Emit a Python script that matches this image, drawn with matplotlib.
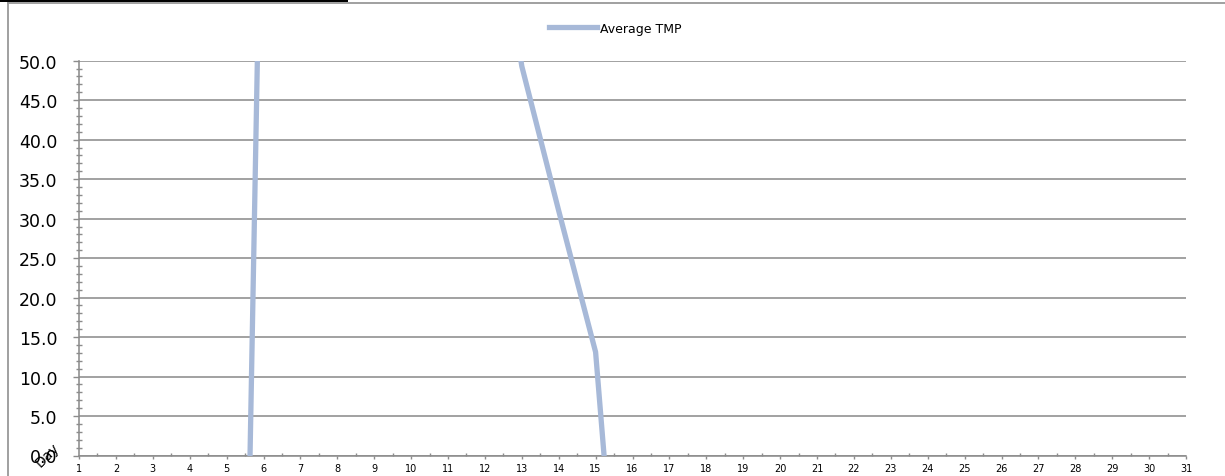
import matplotlib
matplotlib.use("Agg")
import matplotlib.pyplot as plt
from matplotlib.ticker import MultipleLocator, FixedLocator, FixedFormatter
from matplotlib.lines import Line2D
from matplotlib.patches import Rectangle

# ---- data (values outside 0..50 are clipped by the axes, estimated) ----
days = list(range(1, 17))
avg_tmp = [-150.0, -130.0, -145.0, -155.0, -160.0, 92.0, 100.0, 110.0,
           105.0, 95.0, 90.0, 80.0, 49.3, 31.0, 13.1, -44.0]
series_name = "Average TMP"
x_labels = [str(d) for d in range(1, 32)]
y_ticks = [0, 5, 10, 15, 20, 25, 30, 35, 40, 45, 50]

W, H = 1225, 477
fig = plt.figure(figsize=(W / 100, H / 100), dpi=100)
fig.patch.set_facecolor("white")

ax = fig.add_axes([79 / W, 1 - 456.5 / H, (1186 - 79) / W, (456.5 - 61.7) / H])
line_color = "#A7B9D8"
grid_color = "#8C8C8C"

ax.plot(days, avg_tmp, color=line_color, lw=3.8, solid_joinstyle="miter",
        label=series_name, zorder=3)

ax.set_xlim(1, 31)
ax.set_ylim(0, 50)

# y axis
ax.yaxis.set_major_locator(FixedLocator(y_ticks))
ax.yaxis.set_major_formatter(FixedFormatter([f"{v:.1f}" for v in y_ticks]))
ax.yaxis.set_minor_locator(MultipleLocator(1))
ax.tick_params(axis="y", which="major", direction="out", length=4.5, width=1,
               color=grid_color, labelsize=12.5, pad=11)
ax.tick_params(axis="y", which="minor", direction="inout", length=5, width=1,
               color=grid_color)

# x axis
ax.xaxis.set_major_locator(FixedLocator(range(1, 32)))
ax.xaxis.set_major_formatter(FixedFormatter(x_labels))
ax.xaxis.set_minor_locator(FixedLocator([d + 0.5 for d in range(1, 31)]))
ax.tick_params(axis="x", which="major", direction="out", length=2.5, width=1,
               color=grid_color, labelsize=7, pad=3)
ax.tick_params(axis="x", which="minor", direction="in", length=2.5, width=1,
               color=grid_color)

ax.grid(axis="y", which="major", color=grid_color, lw=1.15)
ax.set_axisbelow(True)
for s in ["top", "right"]:
    ax.spines[s].set_visible(False)
for s in ["left", "bottom"]:
    ax.spines[s].set_color(grid_color)
    ax.spines[s].set_linewidth(1.15)

# legend
leg = fig.legend(handles=[Line2D([0], [0], color=line_color, lw=3.8)],
                 labels=[series_name], loc="center left",
                 bbox_to_anchor=(549 / W, 1 - 29.3 / H), frameon=False,
                 fontsize=9, handlelength=3.8, handletextpad=0.25,
                 borderpad=0, borderaxespad=0)

# misplaced rotated axis title over the 0.0 label
fig.text(47 / W, 1 - 455 / H, "Day", rotation=45, ha="center", va="center",
         fontsize=10)

# chart border and top black bar
fig.add_artist(Line2D([7.5 / W, 1], [1 - 4.3 / H, 1 - 4.3 / H],
                      color="#999999", lw=1.3, transform=fig.transFigure))
fig.add_artist(Line2D([7.5 / W, 7.5 / W], [0, 1 - 4.3 / H],
                      color="#999999", lw=1.3, transform=fig.transFigure))
fig.add_artist(Rectangle((0, 1 - 3 / H), 348 / W, 3 / H, color="black",
                         transform=fig.transFigure, lw=0))

fig.savefig("out.png", dpi=100, facecolor="white")
